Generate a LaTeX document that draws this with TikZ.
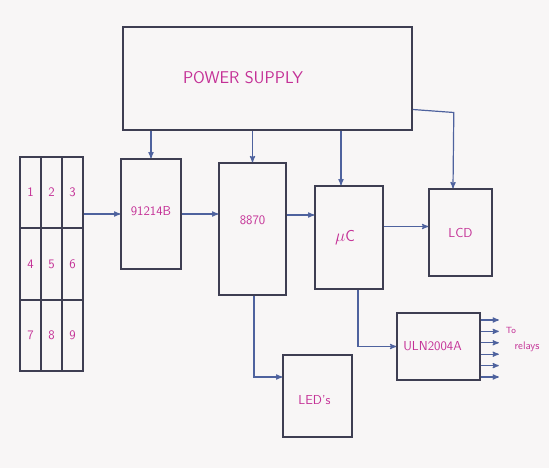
\documentclass[tikz,border=0pt]{standalone}
\usepackage{amsmath}
\usepackage{tikz}
\usetikzlibrary{arrows,positioning,calc}

\definecolor{paper}{RGB}{248,246,246}
\definecolor{ink}{RGB}{62,62,82}
\definecolor{wire}{RGB}{78,98,158}
\definecolor{pen}{RGB}{196,48,150}

\begin{document}
\begin{tikzpicture}[x=1pt,y=-1pt,thick,>=stealth',
  block/.style={draw=ink,line width=1.6pt,inner sep=0pt},
  key/.style={block,minimum width=21,minimum height=71.5,text=pen,font=\sffamily\fontsize{13}{15}\selectfont},
  txt/.style={text=pen,font=\sffamily\fontsize{13}{15}\selectfont},
  link/.style={->,draw=wire,line width=1.2pt}]
\fill[paper] (0,0) rectangle (549,468);
\useasboundingbox (0,0) rectangle (549,468);
% power supply
\node[block,minimum width=289,minimum height=103] (ps) at (267.5,78.5) {};
\node[txt,font=\sffamily\fontsize{17}{19}\selectfont] (pslbl) at (243,78) {POWER SUPPLY};
% keypad
\foreach \r in {0,1,2}
\foreach \c in {0,1,2} {
  \pgfmathtruncatemacro\n{3*\r+\c+1}
  \node[key] (k\n) at ({30.5+21*\c},{192.5+71.5*\r}) {\n};
}
% blocks
\node[block,minimum width=60,minimum height=110] (ic) at (151,214) {};
\node[txt] at ([yshift=3]ic.center) {91214B};
\node[block,minimum width=67,minimum height=132] (dtmf) at (252.5,229) {};
\node[txt] at ([yshift=9]dtmf.center) {8870};
\node[block,minimum width=68,minimum height=103] (mc) at (349,237.5) {};
\node[txt,font=\sffamily\fontsize{16}{18}\selectfont] at ([xshift=-4]mc.center) {$\mu$C};
\node[block,minimum width=63,minimum height=87] (lcd) at (460.5,232.5) {};
\node[txt] at (lcd) {LCD};
\node[block,minimum width=83,minimum height=67] (uln) at (438.5,346.5) {};
\node[txt] at ([xshift=-6]uln.center) {ULN2004A};
\node[block,minimum width=69,minimum height=82] (led) at (317.5,396) {};
\node[txt] at ([xshift=-3,yshift=-4]led.center) {LED's};
% supply lines
\coordinate (mcin) at ([xshift=-8]mc.north);
\coordinate (lcdin) at ([xshift=-7.5]lcd.north);
\draw[link] (ic.north |- ps.south) -- (ic.north);
\draw[link] (dtmf.north |- ps.south) -- (dtmf.north);
\draw[link] (mcin |- ps.south) -- (mcin);
\draw[link] ([yshift=-31]ps.east) -- ++(41,3) -- (lcdin);
% signal path
\coordinate (d2m) at ([yshift=14]dtmf.east);
\coordinate (m2l) at ([yshift=11]mc.east);
\coordinate (m2u) at ([xshift=9]mc.south);
\coordinate (d2l) at ([xshift=1.5]dtmf.south);
\draw[link] (k3.east |- ic.west) -- (ic.west);
\draw[link] (ic.east) -- (ic.east -| dtmf.west);
\draw[link] (d2m) -- (d2m -| mc.west);
\draw[link] (m2l) -- (m2l -| lcd.west);
\draw[link] (m2u) |- (uln.west);
\draw[link] (d2l) |- ([yshift=19]led.west);
% relay outputs
\foreach \i in {0,...,5}
\draw[link] ([yshift={26.5-11.4*\i}]uln.east) -- ++(18,0);
\node[txt,font=\sffamily\fontsize{9}{10}\selectfont] (to) at (511,330) {To};
\node[txt,font=\sffamily\fontsize{11}{12}\selectfont] (relays) at (527,347) {relays};
\end{tikzpicture}
\end{document}
